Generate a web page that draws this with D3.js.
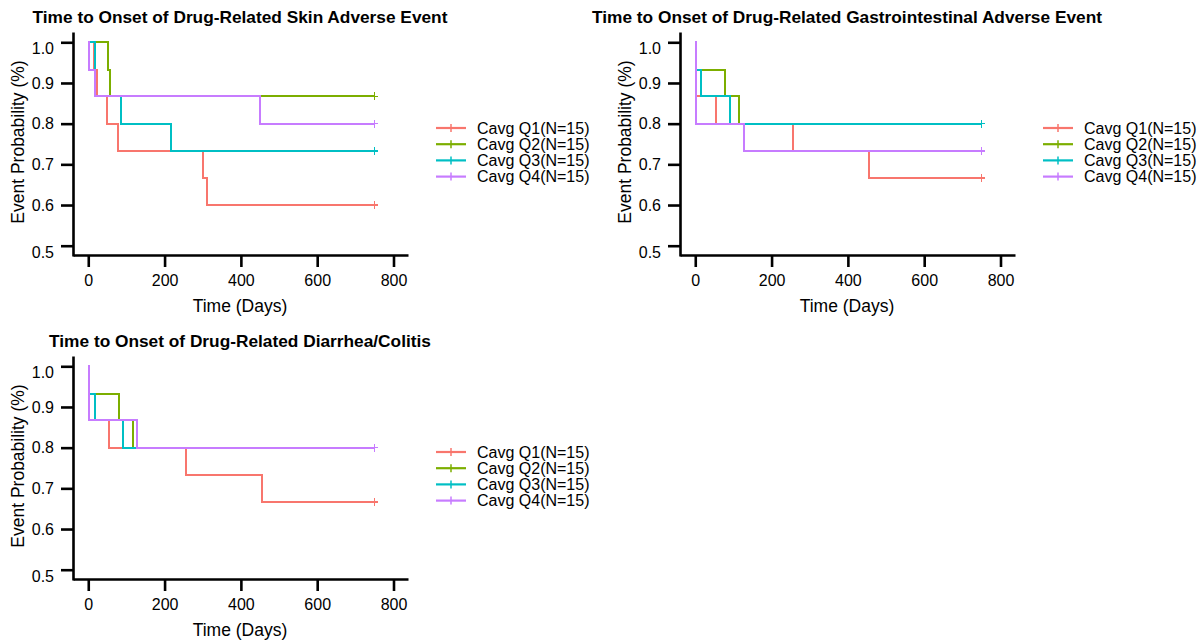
<!DOCTYPE html>
<html>
<head>
<meta charset="utf-8">
<script src="https://cdn.jsdelivr.net/npm/d3@7"></script>
<style>
  body { margin: 0; background: #fff; }
  svg { display: block; font-family: "Liberation Sans", Arial, sans-serif; }
  .axis path, .axis line { stroke: #000; stroke-width: 2.6px; }
  .axis text { font-size: 16px; fill: #000; }
  .km { fill: none; stroke-width: 2px; shape-rendering: crispEdges; }
  .cens { shape-rendering: crispEdges; }
</style>
</head>
<body>
<div id="chart"></div>
<script>
// series labels and colours
var groups = ['Cavg Q1(N=15)', 'Cavg Q2(N=15)', 'Cavg Q3(N=15)', 'Cavg Q4(N=15)'];
var colors = ['#F8766D', '#7CAE00', '#00BFC4', '#C77CFF'];

var xTicks = [0, 200, 400, 600, 800];
var yTicks = [0.5, 0.6, 0.7, 0.8, 0.9, 1.0];

// Skin adverse event: event times (days) and survival after each step
var skinQ1Time = [0, 16, 24, 50, 77, 300, 310, 750],
    skinQ1Surv = [1, 0.933, 0.867, 0.8, 0.733, 0.667, 0.6, 0.6];
var skinQ2Time = [0, 53, 56, 750],
    skinQ2Surv = [1, 0.933, 0.867, 0.867];
var skinQ3Time = [0, 17, 87, 217, 750],
    skinQ3Surv = [1, 0.867, 0.8, 0.733, 0.733];
var skinQ4Time = [0, 2, 17, 450, 750],
    skinQ4Surv = [1, 0.933, 0.867, 0.8, 0.8];

// Gastrointestinal adverse event
var giQ1Time = [0, 2, 55, 257, 455, 750],
    giQ1Surv = [1, 0.867, 0.8, 0.733, 0.667, 0.667];
var giQ2Time = [0, 2, 79, 114, 750],
    giQ2Surv = [1, 0.933, 0.867, 0.8, 0.8];
var giQ3Time = [0, 2, 16, 90, 750],
    giQ3Surv = [1, 0.933, 0.867, 0.8, 0.8];
var giQ4Time = [0, 1, 127, 750],
    giQ4Surv = [1, 0.8, 0.733, 0.733];

// Diarrhea/Colitis
var diaQ1Time = [0, 2, 55, 256, 456, 750],
    diaQ1Surv = [1, 0.867, 0.8, 0.733, 0.667, 0.667];
var diaQ2Time = [0, 2, 80, 116, 750],
    diaQ2Surv = [1, 0.933, 0.867, 0.8, 0.8];
var diaQ3Time = [0, 2, 17, 90, 750],
    diaQ3Surv = [1, 0.933, 0.867, 0.8, 0.8];
var diaQ4Time = [0, 1, 127, 750],
    diaQ4Surv = [1, 0.867, 0.8, 0.8];

function zip(t, s) {
    return t.map(function(d, i) { return {t: d, s: s[i]}; });
}

var panels = [
    {title: 'Time to Onset of Drug-Related Skin Adverse Event', dx: 0, dy: 0,
     series: [zip(skinQ1Time, skinQ1Surv), zip(skinQ2Time, skinQ2Surv),
              zip(skinQ3Time, skinQ3Surv), zip(skinQ4Time, skinQ4Surv)]},
    {title: 'Time to Onset of Drug-Related Gastrointestinal Adverse Event', dx: 607, dy: 0,
     series: [zip(giQ1Time, giQ1Surv), zip(giQ2Time, giQ2Surv),
              zip(giQ3Time, giQ3Surv), zip(giQ4Time, giQ4Surv)]},
    {title: 'Time to Onset of Drug-Related Diarrhea/Colitis', dx: 0, dy: 324,
     series: [zip(diaQ1Time, diaQ1Surv), zip(diaQ2Time, diaQ2Surv),
              zip(diaQ3Time, diaQ3Surv), zip(diaQ4Time, diaQ4Surv)]}
];

var svg = d3.select('#chart')
    .append('svg')
    .attr('width', 1203)
    .attr('height', 641);

// scales for one panel (axis lines run a bit past the ticks)
var xScale = d3.scaleLinear().domain([-40, 838]).range([73, 408]);
var yScale = d3.scaleLinear().domain([0.4747, 1.0253]).range([256, 32]);

var line = d3.line()
    .x(function(d) { return xScale(d.t); })
    .y(function(d) { return yScale(d.s); })
    .curve(d3.curveStepAfter);

panels.forEach(function(p) {
    var g = svg.append('g')
        .attr('transform', 'translate(' + p.dx + ',' + p.dy + ')');

    //title
    g.append('text')
        .attr('x', 240)
        .attr('y', 23)
        .attr('text-anchor', 'middle')
        .attr('font-size', '17.3px')
        .attr('font-weight', 'bold')
        .text(p.title);

    //curves
    p.series.forEach(function(s, i) {
        g.append('path')
            .datum(s)
            .attr('class', 'km')
            .attr('stroke', colors[i])
            .attr('d', line);

        var last = s[s.length - 1];
        g.append('path')
            .attr('class', 'cens')
            .attr('stroke', colors[i])
            .attr('stroke-width', 1.5)
            .attr('d', 'M' + (xScale(last.t) - 4) + ',' + yScale(last.s) +
                       'h8M' + xScale(last.t) + ',' + (yScale(last.s) - 4) + 'v8');
    });

    //axes
    g.append('g')
        .attr('class', 'axis')
        .attr('transform', 'translate(0,' + 255 + ')')
        .call(d3.axisBottom(xScale).tickValues(xTicks).tickSize(12).tickSizeOuter(0).tickPadding(8))
        .selectAll('text').attr('font-size', '16.5px');

    var ya = g.append('g')
        .attr('class', 'axis')
        .attr('transform', 'translate(' + 73 + ',0)')
        .call(d3.axisLeft(yScale).tickValues(yTicks).tickSize(12).tickSizeOuter(0).tickPadding(7)
              .tickFormat(d3.format('.1f')));
    ya.selectAll('text')
        .attr('dy', function(d) { return (d === 1 || d === 0.5) ? '0.72em' : '0.32em'; });

    g.append('text')
        .attr('x', 240)
        .attr('y', 312)
        .attr('text-anchor', 'middle')
        .attr('font-size', '17.5px')
        .text('Time (Days)');

    g.append('text')
        .attr('transform', 'translate(23.5,142) rotate(-90)')
        .attr('text-anchor', 'middle')
        .attr('font-size', '17.5px')
        .text('Event Probability (%)');

    //legend
    var leg = g.append('g').attr('transform', 'translate(436,128)');
    groups.forEach(function(name, i) {
        var row = leg.append('g').attr('transform', 'translate(0,' + (i * 16.2) + ')');
        row.append('line')
            .attr('x1', 0).attr('x2', 30)
            .attr('stroke', colors[i]).attr('stroke-width', 2.2);
        row.append('line')
            .attr('x1', 15).attr('x2', 15).attr('y1', -4).attr('y2', 4)
            .attr('stroke', colors[i]).attr('stroke-width', 1.5);
        row.append('text')
            .attr('x', 41)
            .attr('dy', '0.35em')
            .attr('font-size', '16px')
            .text(name);
    });
});
</script>
</body>
</html>
